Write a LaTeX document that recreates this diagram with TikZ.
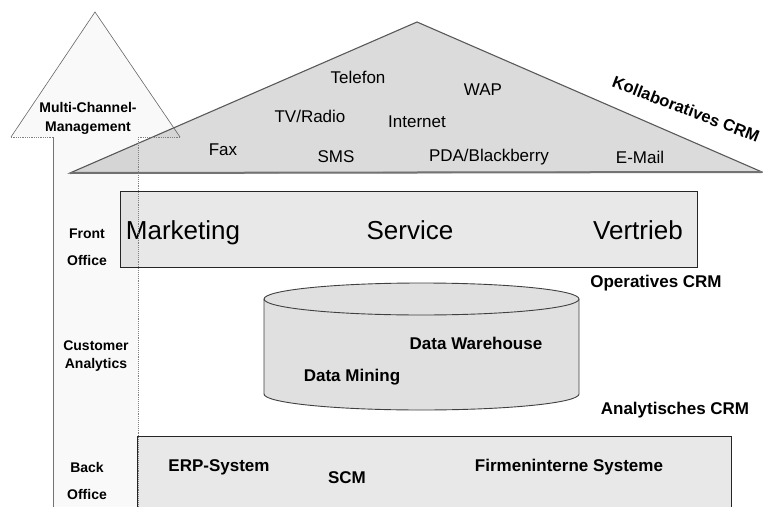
\documentclass[tikz,border=0pt]{standalone}
\usepackage{fontspec}
\setmainfont{Liberation Sans}
\begin{document}
\begin{tikzpicture}[x=1pt,y=-1pt,
  chan/.style={font=\fontsize{17}{20}\selectfont, inner sep=0pt},
  big/.style={font=\fontsize{26}{30}\selectfont, inner sep=0pt, anchor=base},
  lbl/.style={font=\fontsize{17}{20}\selectfont\bfseries, inner sep=0pt},
  side/.style={font=\fontsize{14}{18}\selectfont\bfseries, inner sep=0pt, align=center},
  layerbox/.style={fill=black!9, draw=black!85, line width=0.9pt},
  roof/.style={fill=black!14, draw=black!65, line width=1.1pt},
  cyl/.style={fill=black!12, draw=black!75, line width=0.9pt}]
\useasboundingbox (0,0) rectangle (763,506);

% roof: collaborative channels
\coordinate (rl) at (70,173);
\coordinate (rt) at (417,22);
\coordinate (rr) at (762,172);
\path[roof] (rl) -- (rt) -- (rr) -- cycle;
\draw[black!55, line width=2pt] (rl) -- (rr);

% layer boxes
\path[layerbox] (120,191) rectangle (697,267);
\path[layerbox] (137,436) rectangle (731,520);

% data warehouse cylinder
\path[cyl] (264,299) -- (264,394)
  arc[start angle=180,end angle=360,x radius=157.5pt,y radius=16pt]
  -- (579,299)
  arc[start angle=0,end angle=180,x radius=157.5pt,y radius=16pt] -- cycle;
\draw[black!75, line width=0.9pt] (264,299)
  arc[start angle=180,end angle=360,x radius=157.5pt,y radius=16pt];

% channel labels
\node[chan] (telefon) at (358,77) {Telefon};
\node[chan] (wap) at (483,90) {WAP};
\node[chan] (tv) at (310,116) {TV/Radio};
\node[chan] (internet) at (417,122) {Internet};
\node[chan] (fax) at (223,150) {Fax};
\node[chan] (sms) at (336,157) {SMS};
\node[chan] (pda) at (489,157) {PDA/Blackberry};
\node[chan] (mail) at (640,157) {E-Mail};
\node[font=\fontsize{16.5}{20}\selectfont\bfseries, inner sep=0pt, rotate=-21] (koll) at (686,109) {Kollaboratives CRM};

% front office
\node[big] (mkt) at (183,239) {Marketing};
\node[big] (srv) at (410,239) {Service};
\node[big] (vtr) at (638,239) {Vertrieb};
\node[lbl] (op) at (656,283) {Operatives CRM};

% analytics
\node[lbl] (dw) at (476,343) {Data Warehouse};
\node[lbl] (dm) at (352,377) {Data Mining};
\node[lbl] (an) at (675,410) {Analytisches CRM};

% back office
\node[lbl] (erp) at (219,467) {ERP-System};
\node[lbl] (scm) at (347,478) {SCM};
\node[lbl] (firm) at (569,467) {Firmeninterne Systeme};

% side labels
\node[side] (mcm) at (88,118) {Multi-Channel-\\[1pt]Management};
\node[side] (fo) at (87,247) {Front\\[9pt]Office};
\node[side] (ca) at (96,356) {Customer\\[0pt]Analytics};
\node[side] (bo) at (87,481) {Back\\[9pt]Office};

% multi-channel arrow overlay
\coordinate (at) at (95,12);
\coordinate (al) at (11,137);
\coordinate (ar) at (180,137);
\coordinate (sl) at (53,137);
\coordinate (sr) at (138,137);
\coordinate (bl) at (53,510);
\coordinate (br) at (138,510);
\fill[black, fill opacity=0.025] (bl) -- (sl) -- (al) -- (at) -- (ar) -- (sr) -- (br) -- cycle;
\draw[black!60, line width=0.6pt] (al) -- (at) -- (ar);
\draw[black!50, line width=0.8pt, densely dotted] (sl) -- (al);
\draw[black!50, line width=0.8pt, densely dotted] (ar) -- (sr);
\draw[black!55, line width=0.7pt] (sl) -- (bl);
\draw[black!50, line width=0.9pt, densely dotted] (sr) -- (br);
\end{tikzpicture}
\end{document}
